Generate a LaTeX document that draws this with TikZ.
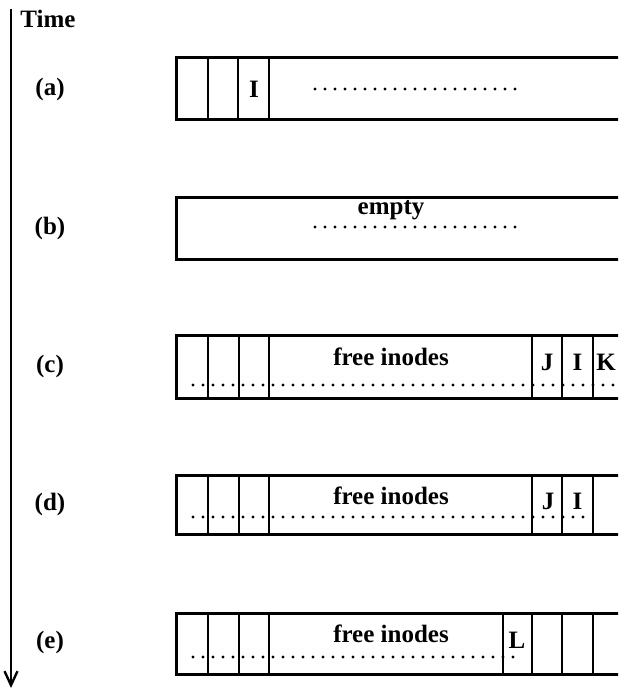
\documentclass[tikz,border=0pt]{standalone}
\usepackage{fontspec}
\setmainfont{Liberation Serif}
\usetikzlibrary{arrows.meta}
\begin{document}
\begin{tikzpicture}[x=1pt,y=-1pt,
  lbl/.style={inner sep=0pt,font=\fontsize{25}{28}\selectfont\bfseries},
  frame/.style={line width=3pt},
  divider/.style={line width=2.2pt},
  dotline/.style={line width=3.4pt,line cap=round,dash pattern=on 0pt off 10pt}]
\useasboundingbox (0,0) rectangle (618,690);
\clip (0,0) rectangle (618,690);
% time axis
\coordinate (t0) at (11,9);
\coordinate (t1) at (11,688);
\draw[line width=2.2pt,-{Straight Barb[length=14pt,width=13pt,line width=2.4pt]}] (t0) -- (t1);
\node[lbl] (time) at (48,19) {Time};
% row labels
\node[lbl] (la) at (50,89) {(a)};
\node[lbl] (lb) at (50,228) {(b)};
\node[lbl] (lc) at (50,366) {(c)};
\node[lbl] (ld) at (50,504) {(d)};
\node[lbl] (le) at (50,642) {(e)};
% ---- row (a)
\draw[frame] (622,58) -- (176,58) -- (176,120) -- (622,120);
\foreach \x in {208,238,269} \draw[divider] (\x,58) -- (\x,120);
\node[lbl] (ia) at (254,89) {I};
\draw[dotline] (315,89) -- (522,89);
% ---- row (b)
\draw[frame] (622,197) -- (176,197) -- (176,259) -- (622,259);
\node[lbl] (emp) at (391,210) {empty};
\draw[dotline] (315,227) -- (522,227);
% ---- row (c)
\draw[frame] (622,335) -- (176,335) -- (176,398) -- (622,398);
\foreach \x in {208,239,269,532,562,593} \draw[divider] (\x,335) -- (\x,398);
\node[lbl] (fc) at (391,357) {free inodes};
\node[lbl] (jc) at (547,362) {J};
\node[lbl] (ic) at (577.5,362) {I};
\node[lbl] (kc) at (606,362) {K};
\draw[dotline] (193,385) -- (618,385);
% ---- row (d)
\draw[frame] (622,475) -- (176,475) -- (176,534) -- (622,534);
\foreach \x in {208,239,269,532,562,593} \draw[divider] (\x,475) -- (\x,534);
\node[lbl] (fd) at (391,496) {free inodes};
\node[lbl] (jd) at (548,501) {J};
\node[lbl] (id) at (577.5,501) {I};
\draw[dotline] (193,517) -- (585,517);
% ---- row (e)
\draw[frame] (622,613) -- (176,613) -- (176,674) -- (622,674);
\foreach \x in {208,239,269,503,532,562,593} \draw[divider] (\x,613) -- (\x,674);
\node[lbl] (fe) at (391,634) {free inodes};
\node[lbl] (le2) at (517,640) {L};
\draw[dotline] (193,657) -- (523,657);
\end{tikzpicture}
\end{document}
